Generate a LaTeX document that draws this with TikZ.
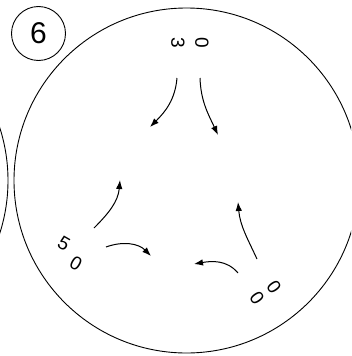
\documentclass[tikz,border=0pt]{standalone}
\usepackage{fontspec}
\setmainfont{Liberation Sans}
\usetikzlibrary{arrows.meta}
\begin{document}
\begin{tikzpicture}[x=1pt,y=1pt,
  digit/.style={font=\fontsize{19}{19}\selectfont,inner sep=0pt},
  flow/.style={line width=1pt,-{Latex[length=9pt,width=6.5pt]}}]
  \useasboundingbox (0,0) rectangle (351,-356);
  \clip (0,0) rectangle (351,-356);
  % rims
  \draw[line width=0.9pt] (-164.5,-180.5) circle (172.5);
  \draw[line width=0.9pt] (186.5,-180.5) circle (172.5);
  \node[draw,circle,line width=0.9pt,minimum size=54pt,inner sep=0pt,
    font=\fontsize{30}{30}\selectfont] (num) at (38.5,-33.5) {6};
  % labels
  \node[digit,rotate=-90] (top3) at (178,-43) {3};
  \node[digit,rotate=-90] (top0) at (202,-43) {0};
  \node[digit,rotate=-30] (left5) at (64,-244) {5};
  \node[digit,rotate=-30] (left0) at (76,-263) {0};
  \node[digit,rotate=-55] (right0a) at (257,-298) {0};
  \node[digit,rotate=-55] (right0b) at (274,-287) {0};
  % arrow ends
  \coordinate (a1s) at (177,-78);  \coordinate (a1e) at (150,-127);
  \coordinate (a2s) at (200,-78);  \coordinate (a2e) at (218,-135);
  \coordinate (a3s) at (94,-228);  \coordinate (a3e) at (120,-180);
  \coordinate (a4s) at (106,-247); \coordinate (a4e) at (151,-256);
  \coordinate (a5s) at (238,-273); \coordinate (a5e) at (194,-264);
  \coordinate (a6s) at (257,-259); \coordinate (a6e) at (238,-202);
  % arrows
  \draw[flow] (a1s) to[out=-95,in=45] (a1e);
  \draw[flow] (a2s) to[out=-88,in=115] (a2e);
  \draw[flow] (a3s) to[out=45,in=-95] (a3e);
  \draw[flow] (a4s) to[out=20,in=135] (a4e);
  \draw[flow] (a5s) to[out=130,in=10] (a5e);
  \draw[flow] (a6s) to[out=115,in=-85] (a6e);
\end{tikzpicture}
\end{document}
